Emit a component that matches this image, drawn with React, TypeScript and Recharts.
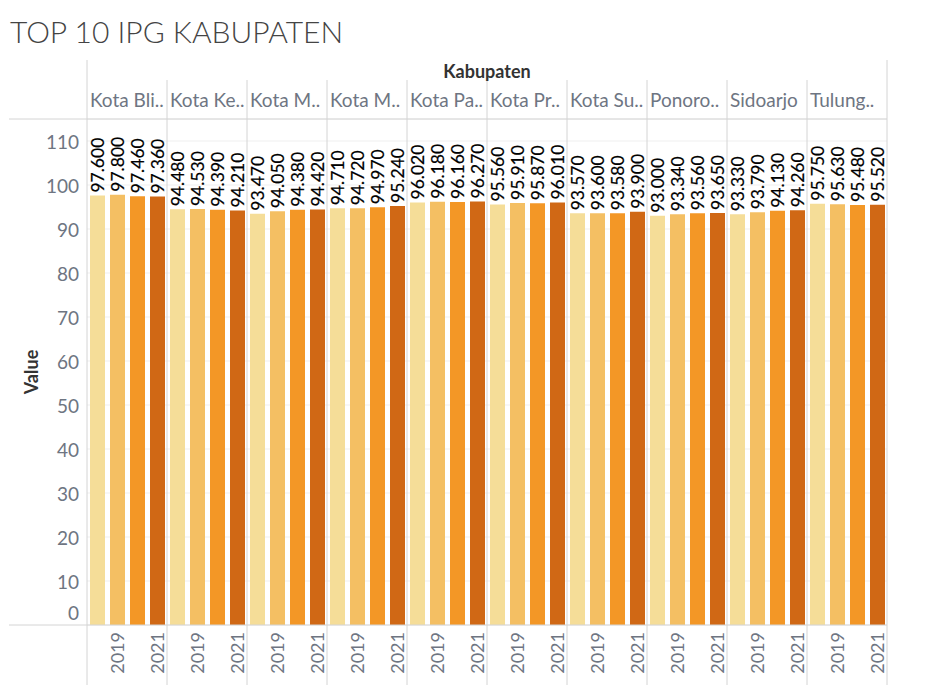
import { Bar, BarChart, CartesianGrid, Cell, LabelList, XAxis, YAxis } from "recharts";

// full names for the axis domain, truncated labels as the header shows them
const KABUPATEN = [
  "Kota Blitar",
  "Kota Kediri",
  "Kota Madiun",
  "Kota Mojokerto",
  "Kota Pasuruan",
  "Kota Probolinggo",
  "Kota Surabaya",
  "Ponorogo",
  "Sidoarjo",
  "Tulungagung",
];
const KAB_LABELS = [
  "Kota Bli..",
  "Kota Ke..",
  "Kota M..",
  "Kota M..",
  "Kota Pa..",
  "Kota Pr..",
  "Kota Su..",
  "Ponoro..",
  "Sidoarjo",
  "Tulung..",
];
const YEARS = [2018, 2019, 2020, 2021];
const YEAR_COLORS = ["#f5dd98", "#f4bf63", "#f39726", "#d06815"];

// one row per kabupaten, one value per year
const IPG = [
  [97.6, 97.8, 97.46, 97.36],
  [94.48, 94.53, 94.39, 94.21],
  [93.47, 94.05, 94.38, 94.42],
  [94.71, 94.72, 94.97, 95.24],
  [96.02, 96.18, 96.16, 96.27],
  [95.56, 95.91, 95.87, 96.01],
  [93.57, 93.6, 93.58, 93.9],
  [93.0, 93.34, 93.56, 93.65],
  [93.33, 93.79, 94.13, 94.26],
  [95.75, 95.63, 95.48, 95.52],
];
const Y_TICKS = [0, 10, 20, 30, 40, 50, 60, 70, 80, 90, 100, 110];

const W = 925;
const H = 696;
const PLOT_TOP = 119;
const PLOT_BOTTOM = 625;
const LINE = "#d4d4d4";
const MUTED = "#6e7582";
const FONT = "Lato, 'Noto Sans', sans-serif";

const data = KABUPATEN.flatMap((kab, i) =>
  YEARS.map((year, j) => ({
    kab,
    year,
    yi: j,
    key: `${kab}-${year}`,
    value: IPG[i][j],
  }))
);

function KabTick(props: any) {
  const { x, payload, index } = props;
  const half = payload?.offset ?? 40;
  const left = x - half;
  const right = x + half;
  const last = index === KABUPATEN.length - 1;
  const frameRight = right + half * 2 * (KABUPATEN.length - 1);
  return (
    <g>
      <line x1={left} x2={left} y1={index === 0 ? 60 : 80} y2={685} stroke={LINE} />
      {last && <line x1={right} x2={right} y1={60} y2={685} stroke={LINE} />}
      {index === 0 && (
        <>
          <line x1={9} x2={frameRight} y1={PLOT_TOP} y2={PLOT_TOP} stroke={LINE} />
          <line x1={9} x2={frameRight} y1={PLOT_BOTTOM} y2={PLOT_BOTTOM} stroke={LINE} />
        </>
      )}
      <text x={left + 3} y={107} fill={MUTED} fontSize={19} fontFamily={FONT} textAnchor="start">
        {KAB_LABELS[index]}
      </text>
    </g>
  );
}

function YearTick(props: any) {
  const { x, index } = props;
  const row = data[index];
  if (!row || row.year % 2 === 0) return null;
  return (
    <text
      x={x}
      y={PLOT_BOTTOM + 7}
      transform={`rotate(-90 ${x} ${PLOT_BOTTOM + 7})`}
      textAnchor="end"
      dominantBaseline="central"
      fill={MUTED}
      fontSize={18}
      fontFamily={FONT}
    >
      {row.year}
    </text>
  );
}

function ValueTick(props: any) {
  const { x, y, payload } = props;
  const dy = payload.value === 0 ? -13 : 0;
  return (
    <text
      x={x}
      y={y + dy}
      textAnchor="end"
      dominantBaseline="central"
      fill={MUTED}
      fontSize={19}
      fontFamily={FONT}
    >
      {payload.value}
    </text>
  );
}

function BarValue(props: any) {
  const { x, y, width, value } = props;
  const cx = x + width / 2;
  const cy = y - 3;
  return (
    <text
      x={cx}
      y={cy}
      transform={`rotate(-90 ${cx} ${cy})`}
      textAnchor="start"
      dominantBaseline="central"
      fill="#000"
      stroke="#000"
      strokeWidth={0.2}
      fontSize={17.5}
      fontFamily={FONT}
    >
      {Number(value).toFixed(3)}
    </text>
  );
}

function ValueTitle(props: any) {
  const { viewBox } = props;
  const cx = viewBox.x + 21;
  const cy = viewBox.y + viewBox.height / 2;
  return (
    <text
      x={cx}
      y={cy}
      transform={`rotate(-90 ${cx} ${cy})`}
      textAnchor="middle"
      dominantBaseline="central"
      fill="#333"
      fontWeight={700}
      fontSize={18}
      fontFamily={FONT}
    >
      Value
    </text>
  );
}

export default function App() {
  return (
    <div style={{ position: "absolute", left: 0, top: 0, width: W, height: H, background: "#fff" }}>
      <div
        style={{
          position: "absolute",
          left: 10,
          top: 13,
          fontFamily: FONT,
          fontWeight: 300,
          fontSize: 30,
          color: "#444",
          whiteSpace: "nowrap",
        }}
      >
        TOP 10 IPG KABUPATEN
      </div>
      <BarChart
        width={W}
        height={H}
        data={data}
        margin={{ top: 80, right: 38, bottom: 11, left: 10 }}
        barCategoryGap={0}
      >
        <CartesianGrid vertical={false} stroke="#efefef" />
        <XAxis
          xAxisId="kab"
          dataKey="kab"
          orientation="top"
          allowDuplicatedCategory={false}
          axisLine={false}
          tickLine={false}
          interval={0}
          height={39}
          tick={<KabTick />}
          label={{
            value: "Kabupaten",
            position: "top",
            offset: 2,
            fill: "#333",
            fontWeight: 700,
            fontSize: 18,
            fontFamily: FONT,
          }}
        />
        <XAxis
          xAxisId="year"
          dataKey="key"
          axisLine={false}
          tickLine={false}
          interval={0}
          height={60}
          tick={<YearTick />}
        />
        <YAxis
          domain={[0, 115]}
          ticks={Y_TICKS}
          width={77}
          axisLine={false}
          tickLine={false}
          tick={<ValueTick />}
          label={<ValueTitle />}
        />
        <Bar dataKey="value" xAxisId="year" barSize={15} isAnimationActive={false}>
          {data.map((d) => (
            <Cell key={d.key} fill={YEAR_COLORS[d.yi]} />
          ))}
          <LabelList dataKey="value" content={<BarValue />} />
        </Bar>
      </BarChart>
    </div>
  );
}
